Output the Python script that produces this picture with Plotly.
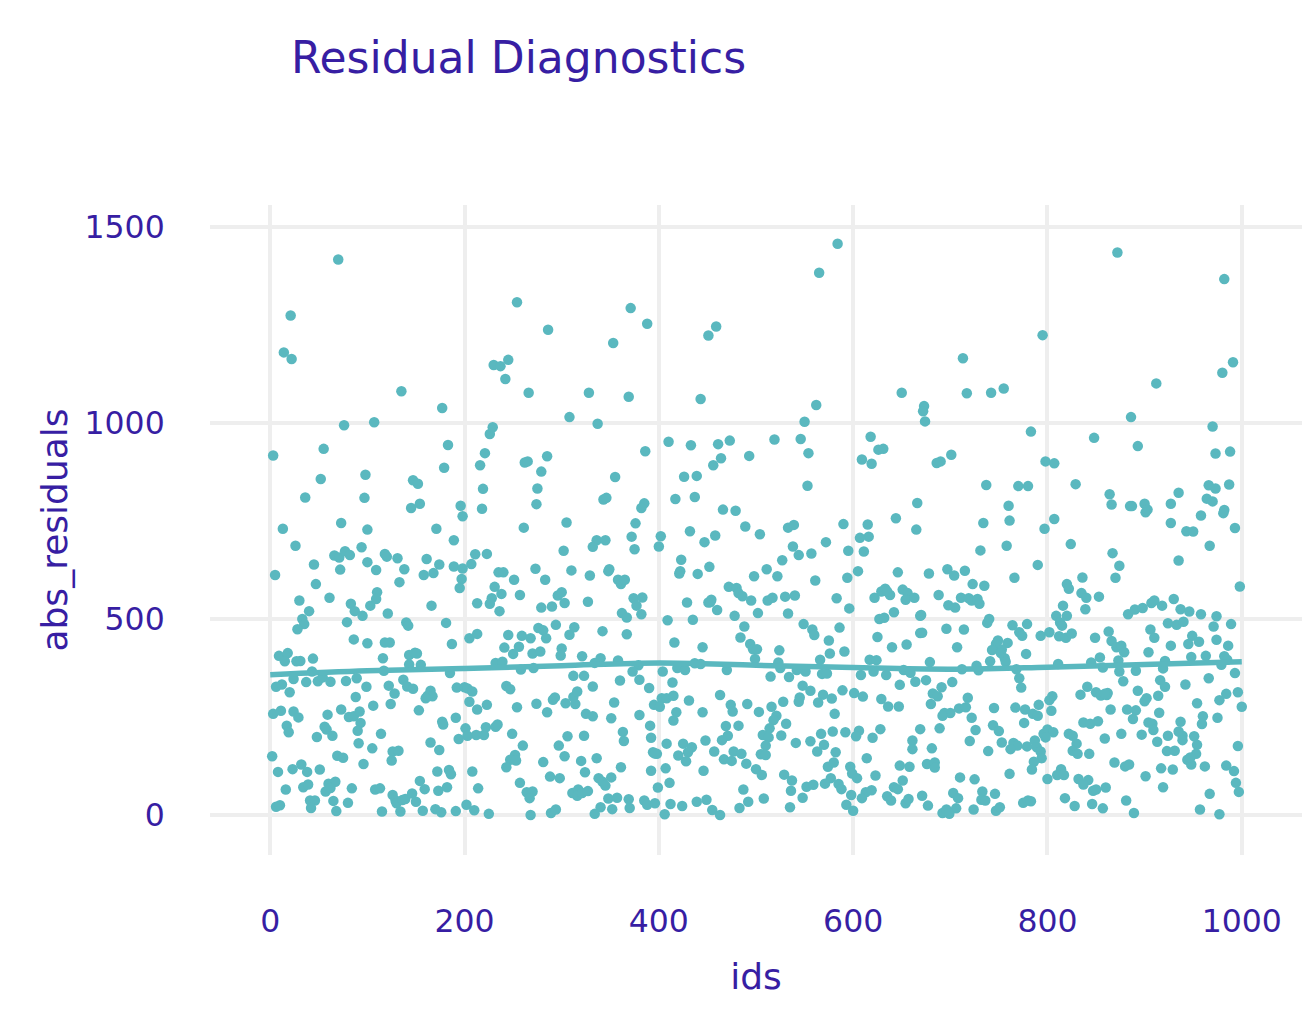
import plotly.graph_objects as go

ids = [
    70, 21, 14, 22, 135, 177, 76, 107, 3, 55, 52, 98, 36, 97, 147, 152, 145, 154, 196, 183,
    179, 218, 219, 216, 221, 226, 229, 230, 237, 245, 242, 254, 286, 266, 328, 308, 285, 262, 265, 279,
    275, 274,
    371, 388, 353, 369, 337, 386, 355, 343, 346, 385, 382, 451, 459, 443, 410, 433, 461, 473, 464, 456,
    493, 426, 439, 417, 437, 466, 479, 519, 546, 554, 550, 562, 565, 584, 553, 618, 626, 631, 609, 619,
    650, 666,
    673, 672, 674, 713, 717, 742, 755, 795, 783, 701, 686, 690, 737, 770, 780, 760, 798, 807, 872, 982,
    991, 980, 912, 886, 848, 893, 970, 973, 988, 829, 864, 866, 885, 887, 900, 903, 927, 935, 966, 973,
    987, 964, 970, 982,
    13, 73, 100, 26, 5, 45, 66, 71, 77, 82, 72, 94, 100, 47, 61, 30, 40, 33, 35, 28,
    83, 87, 95, 103, 79, 86, 100, 9, 18, 15, 27, 31, 44, 43, 49, 54, 24, 37, 62, 78,
    89, 99, 6, 12, 20, 88, 3, 11, 24, 29, 59, 73, 81, 86, 92, 93, 17, 19, 56, 58,
    64, 48, 90, 91, 2, 69, 75, 32, 23, 38, 51, 8, 96, 16, 34, 39, 60, 67, 57, 62,
    84, 41, 46, 65, 80, 6, 10, 42, 68,
    198, 171, 189, 118, 120, 131, 109, 138, 161, 174, 158, 168, 189, 198, 207, 211, 197, 195, 133, 110,
    109, 166, 213, 121, 140, 142, 181, 118, 123, 187, 205, 213, 116, 143, 149, 151, 143, 155, 117, 185,
    137, 122, 141, 147, 128, 192, 200, 203, 208, 165, 162, 167, 160, 205, 106, 124, 153, 213, 177, 178,
    191, 201, 203, 212, 194, 114, 105, 165, 174, 126, 132, 125, 172, 184, 186, 208, 154, 159, 173, 182,
    214, 108, 113, 126, 129, 130, 136, 139, 146, 150, 115, 134, 157, 170, 176, 191, 202, 210,
    261, 305, 223, 302, 235, 240, 251, 273, 283, 310, 329, 231, 238, 228, 226, 257, 236, 279, 290, 296,
    300, 303, 327, 245, 259, 268, 276, 281, 284, 294, 308, 313, 241, 250, 256, 270, 278, 300, 299, 321,
    232, 239, 258, 271, 312, 323, 243, 247, 223, 254, 274, 285, 291, 293, 304, 314, 312, 316, 325, 222,
    232, 234, 220, 249, 260, 297, 306, 323, 252, 247, 253, 243, 281, 303, 320, 324, 288, 298, 257, 264,
    270, 267, 311, 317, 316, 321, 327, 225, 268, 289, 294,
    376, 372, 336, 345, 332, 375, 402, 400, 432, 423, 422, 421, 440, 348, 349, 358, 361, 365, 374, 383,
    377, 382, 362, 367, 429, 409, 435, 342, 367, 416, 340, 334, 358, 379, 373, 404, 419, 427, 437, 360,
    380, 390, 414, 332, 403, 408, 415, 431, 395, 401, 354, 418, 415, 332, 351, 380, 391, 363, 364, 392,
    408, 425, 434, 430, 420, 428, 394, 398, 396, 336, 361, 392, 407, 338, 342, 345, 351, 411, 399, 348,
    357, 369, 385, 396, 388, 412, 424, 439, 340, 352, 370, 334, 406,
    489, 504, 447, 458, 533, 539, 538, 544, 527, 452, 511, 498, 522, 472, 480, 482, 486, 495, 451, 454,
    453, 460, 478, 512, 517, 530, 540, 502, 533, 549, 488, 484, 494, 497, 501, 499, 524, 445, 443, 470,
    523, 525, 542, 551, 515, 534, 548, 463, 474, 476, 491, 503, 516, 528, 545, 544, 445, 469, 482, 521,
    518, 514, 531, 507, 513, 526, 471, 465, 448, 510, 541, 457, 477, 485, 505, 510, 467, 475, 490, 500,
    506, 446, 529, 537, 552, 536, 548, 487, 449, 492, 508, 455, 463, 483, 535,
    590, 615, 616, 607, 644, 665, 572, 595, 611, 557, 561, 594, 605, 646, 583, 596, 622, 629, 633, 638,
    635, 651, 656, 654, 663, 669, 627, 632, 642, 558, 560, 586, 575, 591, 576, 566, 625, 640, 655, 669,
    617, 624, 568, 573, 608, 621, 634, 652, 659, 664, 648, 556, 589, 601, 610, 569, 578, 564, 629, 636,
    647, 581, 628, 620, 606, 603, 592, 579, 567, 556, 570, 563, 582, 661, 661, 574, 580, 614, 597, 599,
    604, 623, 648, 658, 651, 577, 559, 571, 585, 588, 642, 646, 613, 619, 609, 635, 639, 654, 657, 598,
    593, 600,
    734, 761, 758, 731, 678, 697, 704, 715, 723, 735, 766, 688, 711, 719, 722, 728, 730, 698, 705, 670,
    738, 740, 764, 771, 774, 779, 671, 696, 714, 707, 749, 747, 743, 759, 753, 752, 756, 757, 741, 778,
    679, 712, 727, 729, 768, 675, 702, 771, 773, 691, 682, 687, 718, 680, 709, 716, 745, 767, 777, 694,
    700, 692, 722, 776, 744, 750, 726, 689, 669, 720, 753, 765, 769, 762, 779, 739, 681, 676, 684, 684,
    761, 710, 725, 671, 703, 708, 733, 732, 736, 746, 677, 706, 724, 692, 696, 699, 747, 751, 775, 780,
    807, 797, 824, 867, 874, 870, 790, 836, 820, 822, 835, 840, 853, 839, 816, 809, 820, 883, 890, 813,
    815, 793, 802, 812, 819, 825, 849, 863, 866, 871, 876, 879, 854, 845, 811, 857, 873, 874, 878, 891,
    841, 834, 850, 855, 861, 862, 859, 893, 805, 802, 791, 804, 785, 790, 865, 882, 891, 888, 837, 844,
    852, 800, 796, 806, 798, 822, 826, 830, 859, 876, 787, 789, 793, 794, 826, 831, 843, 786, 784, 869,
    880, 884, 814, 810, 817, 832, 842, 837, 847, 850, 860, 800, 783, 818, 828, 846, 857, 881, 889,
    901, 927, 958, 981, 943, 950, 993, 967, 935, 998, 898, 907, 910, 918, 930, 937, 946, 958, 974, 924,
    933, 940, 971, 989, 906, 910, 949, 945, 956, 974, 986, 927, 904, 948, 963, 982, 985, 921, 919, 979,
    993, 916, 921, 942, 966, 984, 977, 996, 1000, 902, 900, 914, 954, 915, 960, 959, 975, 904, 908, 909,
    897, 937, 935, 939, 939, 924, 951, 954, 953, 913, 923, 931, 944, 948, 947, 996, 962, 984, 992, 917,
    929, 901, 919, 994, 997, 967, 957, 977,
]
abs_residuals = [
    1417, 1274, 1180, 1163, 1081, 1038, 994, 1002, 917, 934, 857, 868, 810, 809, 854, 845, 783, 794, 789, 944,
    886, 781, 832, 892, 923, 972, 989, 1148, 1145, 1161, 1112, 1308, 1238, 1077, 1077, 1015, 915, 899, 902, 876,
    833, 793,
    1293, 1253, 1204, 1067, 998, 928, 862, 805, 809, 795, 783, 1223, 1246, 1061, 952, 943, 946, 955, 910, 892,
    916, 863, 865, 806, 811, 779, 776, 958, 959, 923, 1003, 1046, 1383, 1457, 840, 965, 932, 934, 907, 896,
    1077, 796,
    1043, 1030, 1004, 1165, 1076, 1077, 1088, 1224, 978, 919, 898, 902, 842, 839, 839, 789, 902, 897, 1435, 1367,
    1155, 1128, 1101, 1015, 962, 941, 991, 922, 927, 844, 818, 792, 788, 788, 794, 779, 794, 822, 841, 833,
    843, 807, 800, 778,
    730, 745, 728, 687, 612, 639, 662, 657, 673, 663, 626, 683, 645, 589, 554, 547, 520, 500, 487, 474,
    539, 520, 508, 534, 492, 448, 438, 406, 413, 392, 392, 393, 399, 366, 341, 351, 347, 339, 340, 342,
    349, 327, 327, 333, 313, 301, 258, 266, 264, 249, 256, 269, 250, 252, 264, 235, 228, 211, 225, 218,
    202, 199, 215, 183, 150, 151, 146, 129, 117, 110, 116, 110, 130, 65, 71, 78, 80, 85, 60, 69,
    68, 37, 37, 36, 31, 21, 25, 18, 10,
    762, 730, 701, 666, 659, 655, 625, 627, 653, 639, 612, 617, 634, 629, 640, 665, 602, 579, 594, 568,
    551, 534, 540, 514, 491, 483, 490, 440, 440, 436, 451, 462, 400, 408, 414, 412, 384, 383, 368, 362,
    345, 330, 328, 322, 310, 325, 326, 323, 315, 317, 304, 303, 298, 289, 279, 283, 267, 269, 238, 231,
    248, 221, 202, 204, 194, 207, 170, 185, 166, 162, 164, 139, 111, 115, 104, 111, 87, 66, 62, 71,
    68, 65, 68, 51, 37, 30, 38, 41, 55, 34, 9, 9, 11, 15, 7, 10, 26, 12,
    733, 746, 666, 674, 619, 619, 600, 628, 600, 624, 611, 582, 564, 553, 539, 561, 520, 529, 532, 560,
    568, 541, 544, 459, 457, 451, 477, 471, 451, 485, 460, 479, 427, 411, 429, 412, 417, 425, 407, 405,
    388, 391, 371, 375, 355, 355, 329, 321, 281, 275, 284, 262, 294, 300, 285, 283, 301, 315, 258, 224,
    225, 231, 204, 207, 177, 177, 201, 202, 153, 141, 139, 122, 135, 150, 138, 109, 98, 94, 82, 58,
    60, 43, 56, 65, 49, 56, 61, 3, 0, 5, 14,
    744, 710, 701, 701, 684, 678, 711, 685, 724, 651, 622, 616, 615, 622, 627, 600, 589, 600, 553, 555,
    534, 512, 515, 504, 542, 497, 498, 469, 461, 440, 400, 388, 394, 382, 366, 366, 375, 370, 387, 343,
    345, 324, 338, 328, 298, 298, 304, 292, 281, 276, 287, 262, 241, 252, 247, 255, 228, 212, 189, 197,
    182, 182, 173, 160, 152, 137, 160, 156, 157, 145, 122, 113, 119, 94, 85, 75, 96, 82, 70, 42,
    44, 40, 37, 30, 26, 28, 23, 34, 20, 15, 18, 3, 2,
    736, 716, 696, 713, 733, 740, 685, 663, 650, 633, 627, 609, 609, 582, 579, 566, 558, 547, 542, 549,
    543, 523, 508, 547, 554, 557, 560, 515, 514, 487, 481, 453, 436, 423, 423, 398, 420, 428, 385, 370,
    389, 375, 370, 366, 353, 352, 330, 306, 281, 264, 283, 263, 276, 289, 300, 289, 262, 227, 228, 253,
    242, 221, 233, 204, 198, 203, 202, 191, 190, 177, 184, 162, 162, 156, 155, 153, 142, 138, 131, 117,
    102, 113, 103, 88, 72, 62, 44, 65, 39, 34, 42, 13, 0, 18, 20,
    742, 741, 710, 707, 757, 728, 696, 674, 672, 667, 598, 605, 622, 619, 553, 527, 554, 570, 577, 561,
    570, 575, 566, 549, 554, 508, 500, 503, 517, 473, 459, 478, 445, 417, 412, 396, 454, 428, 435, 464,
    396, 395, 360, 361, 357, 366, 357, 370, 363, 340, 332, 317, 318, 311, 302, 307, 297, 287, 296, 277,
    277, 258, 219, 197, 215, 201, 211, 213, 207, 188, 179, 162, 160, 190, 168, 123, 134, 145, 123, 106,
    94, 101, 126, 123, 88, 94, 77, 80, 79, 66, 71, 66, 58, 63, 43, 48, 37, 30, 41, 51,
    26, 11,
    745, 751, 687, 675, 616, 627, 611, 623, 589, 585, 605, 561, 554, 553, 547, 551, 539, 535, 529, 510,
    490, 500, 484, 466, 457, 487, 465, 475, 473, 428, 445, 436, 421, 439, 422, 413, 400, 391, 392, 411,
    390, 372, 381, 369, 372, 344, 339, 349, 325, 326, 310, 303, 299, 283, 272, 275, 273, 274, 269, 260,
    260, 253, 248, 235, 229, 214, 217, 221, 219, 189, 185, 184, 177, 168, 175, 163, 170, 130, 134, 121,
    105, 96, 91, 49, 56, 43, 60, 39, 37, 54, 24, 17, 14, 5, 14, 3, 11, 20, 31, 37,
    755, 730, 691, 668, 636, 605, 638, 606, 589, 577, 566, 554, 557, 525, 534, 508, 508, 512, 524, 491,
    483, 457, 466, 456, 452, 463, 452, 468, 444, 428, 432, 415, 402, 389, 385, 376, 394, 366, 341, 368,
    327, 307, 313, 305, 306, 311, 309, 317, 303, 293, 281, 266, 258, 253, 269, 269, 267, 245, 236, 233,
    239, 218, 207, 211, 198, 207, 202, 182, 195, 207, 190, 173, 162, 145, 164, 156, 156, 136, 116, 134,
    124, 129, 117, 102, 102, 92, 89, 78, 62, 65, 70, 92, 35, 43, 23, 28, 17, 37, 5,
    772, 745, 764, 770, 724, 723, 732, 687, 649, 583, 528, 541, 547, 534, 551, 525, 519, 512, 507, 489,
    485, 493, 481, 487, 473, 452, 457, 436, 442, 447, 432, 432, 415, 403, 406, 405, 396, 393, 374, 383,
    362, 344, 327, 333, 349, 309, 293, 313, 276, 298, 290, 304, 285, 261, 252, 232, 248, 236, 233, 217,
    205, 238, 213, 202, 191, 202, 201, 179, 156, 187, 163, 164, 141, 129, 147, 176, 124, 126, 112, 119,
    116, 99, 71, 82, 59, 54, 14, 2,
]

# smoothed trend through the residuals
trend_ids = [0, 100, 200, 300, 400, 500, 600, 700, 800, 900, 1000]
trend_vals = [358, 368, 374, 381, 388, 382, 376, 372, 377, 384, 391]

teal = "#5ab8bf"
purple = "#371ea3"

fig = go.Figure()
fig.add_trace(go.Scatter(
    x=ids, y=abs_residuals, mode="markers",
    marker=dict(color=teal, size=10.5), showlegend=False))
fig.add_trace(go.Scatter(
    x=trend_ids, y=trend_vals, mode="lines", line_shape="spline",
    line=dict(color=teal, width=5.5), showlegend=False))

# page body has an 8px margin, so the figure is a bit smaller than the window
fig.update_layout(
    width=1304, height=1010,
    margin=dict(l=202, r=10, t=197, b=163),
    paper_bgcolor="white", plot_bgcolor="white",
    font=dict(family="DejaVu Sans", color=purple, size=31),
    title=dict(text="Residual Diagnostics", font=dict(size=44, color=purple),
               xref="container", x=0.217, xanchor="left",
               y=0.9505, yanchor="middle"),
)
fig.update_xaxes(
    range=[-62, 1062], tickvals=[0, 200, 400, 600, 800, 1000],
    showgrid=True, gridcolor="#eeeeee", gridwidth=4, zeroline=False,
    showline=False, ticks="outside", ticklen=38, tickcolor="rgba(0,0,0,0)",
    tickfont=dict(size=31.5, color=purple),
    title=dict(text="ids", font=dict(size=36, color=purple), standoff=26))
fig.update_yaxes(
    range=[-102, 1556], tickvals=[0, 500, 1000, 1500],
    showgrid=True, gridcolor="#eeeeee", gridwidth=4, zeroline=False,
    showline=False, ticks="outside", ticklen=38, tickcolor="rgba(0,0,0,0)",
    tickfont=dict(size=31.5, color=purple),
    title=dict(text="abs_residuals", font=dict(size=36, color=purple), standoff=5))

fig.write_html("out.html")
